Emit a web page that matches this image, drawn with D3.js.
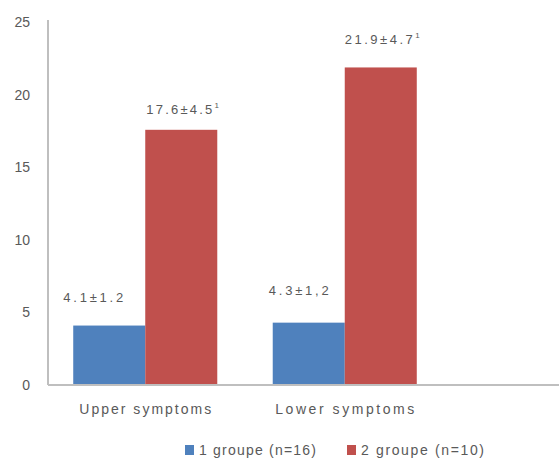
<!DOCTYPE html>
<html>
<head>
<meta charset="utf-8">
<script src="https://cdn.jsdelivr.net/npm/d3@7/dist/d3.min.js"></script>
<style>
  html, body { margin: 0; padding: 0; background: #fff; }
  svg { display: block; font-family: "Liberation Sans", Arial, sans-serif; }
</style>
</head>
<body>
<svg id="chart" width="559" height="461"></svg>
<script>
// Symptom scores by group
const categories = ["Upper symptoms", "Lower symptoms"];
const seriesNames = ["1 groupe (n=16)", "2 groupe (n=10)"];
const group1 = [4.1, 4.3];
const group2 = [17.6, 21.9];
const group1Labels = ["4.1±1.2", "4.3±1,2"];
const group2Labels = ["17.6±4.5", "21.9±4.7"];
const group2Marks = ["1", "1"];
const yTicks = [0, 5, 10, 15, 20, 25];

const colors = ["#4F81BD", "#C0504D"];
const textColor = "#595959";
const axisColor = "#BFBFBF";

const svg = d3.select("#chart");
const W = 559;
const baseY = 385, topY = 22.5;

const y = d3.scaleLinear().domain([0, 25]).range([baseY, topY]);
const x0 = d3.scaleBand().domain(categories).range([45, 445])
  .paddingInner(0.278).paddingOuter(0.1415);
const x1 = d3.scaleBand().domain([0, 1]).range([0, x0.bandwidth()]);

// y axis labels
svg.append("g")
  .attr("transform", "translate(30,0)")
  .call(d3.axisLeft(y).tickValues(yTicks).tickSize(0).tickPadding(0))
  .call(g => g.select(".domain").remove())
  .call(g => g.selectAll("text")
    .attr("fill", textColor)
    .attr("font-size", 14)
    .attr("font-family", "Liberation Sans, Arial, sans-serif"));

// vertical axis line
svg.append("line")
  .attr("x1", 48).attr("x2", 48).attr("y1", 20).attr("y2", baseY)
  .attr("stroke", axisColor).attr("stroke-width", 2);

const rows = categories.map((c, i) => ({
  cat: c,
  vals: [group1[i], group2[i]],
  labels: [group1Labels[i], group2Labels[i]],
  marks: [null, group2Marks[i]]
}));

// bars
const groups = svg.append("g").selectAll("g").data(rows).join("g")
  .attr("transform", d => `translate(${x0(d.cat)},0)`);

groups.selectAll("rect")
  .data(d => d.vals.map((v, s) => ({ v, s })))
  .join("rect")
  .attr("x", d => x1(d.s))
  .attr("width", x1.bandwidth())
  .attr("y", d => y(d.v))
  .attr("height", d => y(0) - y(d.v))
  .attr("fill", d => colors[d.s]);

// category axis line
svg.append("line")
  .attr("x1", 48).attr("x2", W).attr("y1", baseY).attr("y2", baseY)
  .attr("stroke", axisColor).attr("stroke-width", 2);

// value labels (mean ± SD)
const labelShift = [[-16, 0], [-10, 0]];
const labelRise = [[24, 16], [28, 23]];
const labelWidth = [[60, 66], [60, 68]];
groups.each(function (d, i) {
  const g = d3.select(this);
  d.vals.forEach((v, s) => {
    const cx = x1(s) + x1.bandwidth() / 2 + labelShift[i][s];
    const t = g.append("text")
      .attr("x", cx - labelWidth[i][s] / 2 - (d.marks[s] ? 2 : 0))
      .attr("y", y(v) - labelRise[i][s])
      .attr("fill", textColor)
      .attr("font-size", 13);
    t.append("tspan").text(d.labels[s])
      .attr("textLength", labelWidth[i][s]).attr("lengthAdjust", "spacing");
    if (d.marks[s]) {
      t.append("tspan").text(d.marks[s])
        .attr("font-size", 8).attr("dy", -6);
    }
  });
});

// category labels
const catWidth = [132, 139];
svg.append("g").selectAll("text").data(categories).join("text")
  .attr("x", (d, i) => x0(d) + x0.bandwidth() / 2 - catWidth[i] / 2)
  .attr("y", 414)
  .attr("fill", textColor)
  .attr("font-size", 14)
  .attr("textLength", (d, i) => catWidth[i])
  .attr("lengthAdjust", "spacing")
  .text(d => d);

// legend
const legendX = [185, 347];
const legendTextW = [117, 123];
const legend = svg.append("g").selectAll("g").data(seriesNames).join("g")
  .attr("transform", (d, i) => `translate(${legendX[i]},445)`);
legend.append("rect")
  .attr("width", 9).attr("height", 10)
  .attr("fill", (d, i) => colors[i]);
legend.append("text")
  .attr("x", 14).attr("y", 10)
  .attr("fill", textColor)
  .attr("font-size", 14)
  .attr("textLength", (d, i) => legendTextW[i])
  .attr("lengthAdjust", "spacing")
  .text(d => d);
</script>
</body>
</html>
